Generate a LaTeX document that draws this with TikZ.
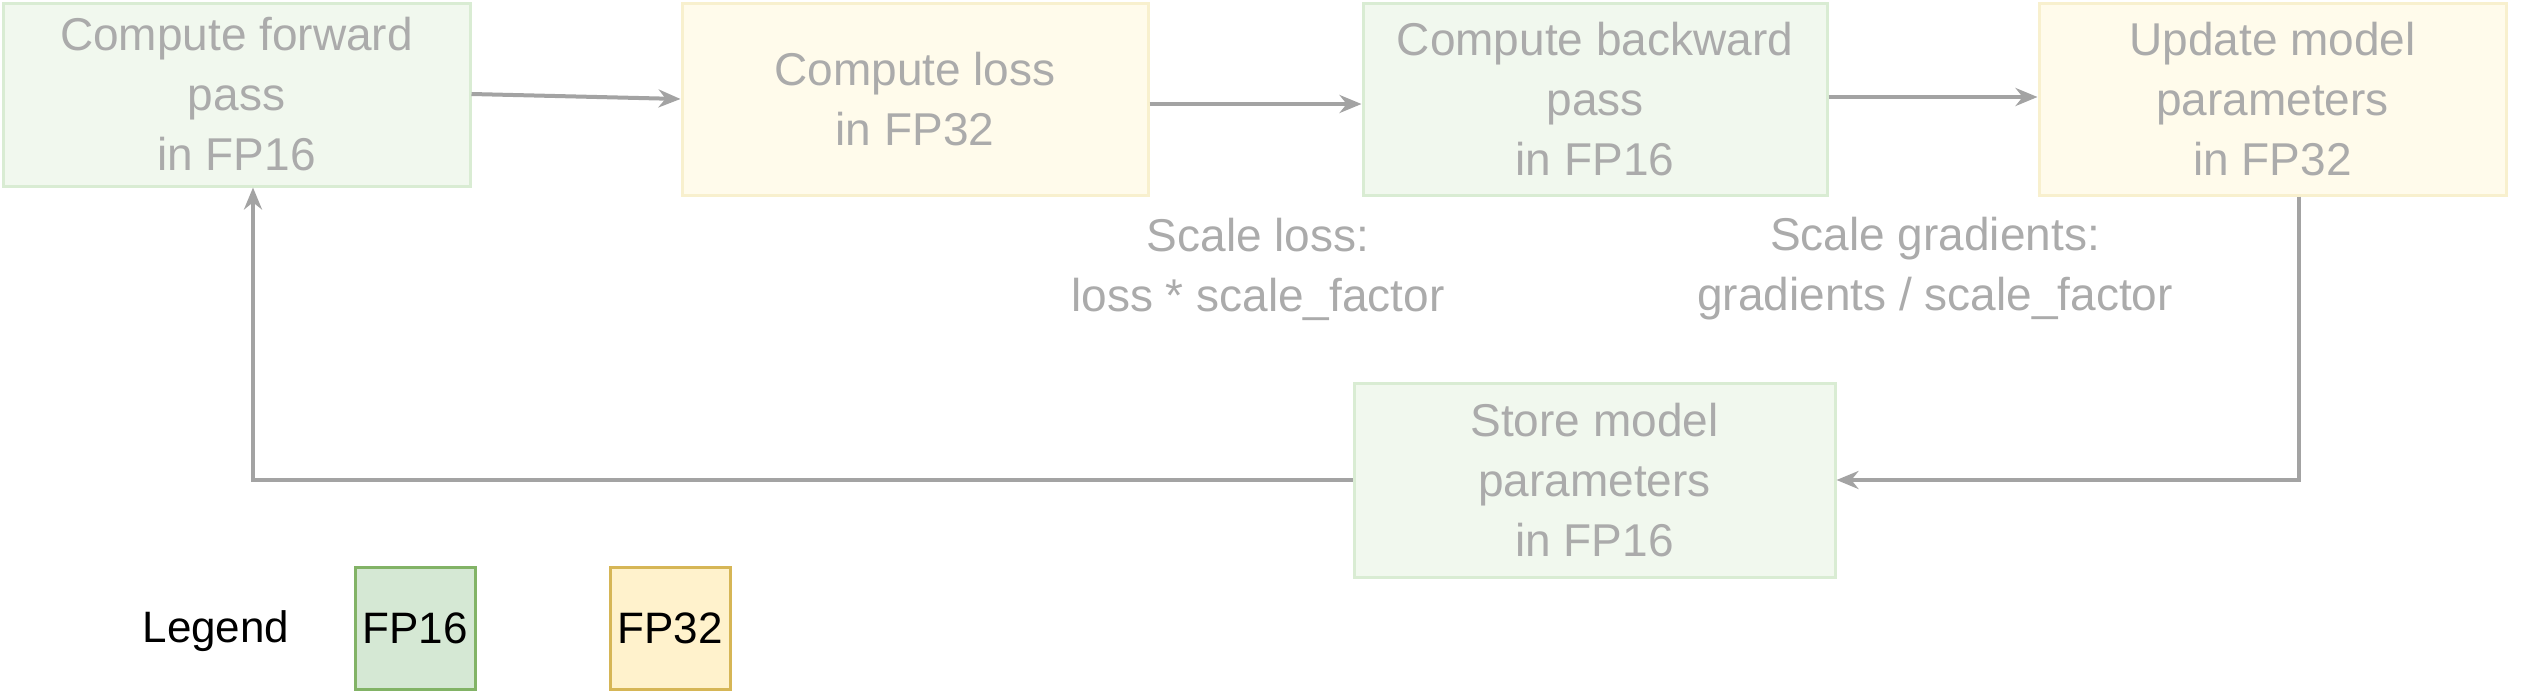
\documentclass[tikz,border=0pt]{standalone}
\usepackage{fontspec}
\setmainfont{Liberation Sans}
\usetikzlibrary{arrows.meta,positioning}
\definecolor{gfill}{HTML}{F1F8EE}
\definecolor{gline}{HTML}{D9ECD3}
\definecolor{yfill}{HTML}{FFFBEB}
\definecolor{yline}{HTML}{F8F0CE}
\definecolor{txtgray}{HTML}{ABABAB}
\definecolor{arrgray}{HTML}{A3A3A3}
\definecolor{legg}{HTML}{D5E8D4}
\definecolor{leggline}{HTML}{82B366}
\definecolor{legy}{HTML}{FFF2CC}
\definecolor{legyline}{HTML}{D6B656}
\tikzset{
  stage/.style={draw, line width=3pt, align=center, text=txtgray, inner sep=0pt,
    font=\fontsize{46}{60}\selectfont},
  fpsix/.style={stage, fill=gfill, draw=gline},
  fpthirtytwo/.style={stage, fill=yfill, draw=yline},
  flow/.style={draw=arrgray, line width=4pt, -{Stealth[length=22pt,width=18pt]}},
  note/.style={align=center, text=txtgray, font=\fontsize{46}{60}\selectfont},
  legbox/.style={line width=3pt, minimum width=120pt, minimum height=122pt,
    font=\fontsize{44}{52}\selectfont},
}
\begin{document}
\begin{tikzpicture}[x=1pt, y=-1pt]
  \useasboundingbox (0,0) rectangle (2542,691);
  % top row
  \node[fpsix, minimum width=467pt, minimum height=183pt] (fwd) at (236.5,94.5) {Compute forward\\pass\\in FP16};
  \node[fpthirtytwo, minimum width=466pt, minimum height=192pt] (loss) at (915,99) {Compute loss\\in FP32};
  \node[fpsix, minimum width=464pt, minimum height=192pt] (bwd) at (1595,99) {Compute backward\\pass\\in FP16};
  \node[fpthirtytwo, minimum width=467pt, minimum height=192pt] (upd) at (2272.5,99) {Update model\\parameters\\in FP32};
  % bottom
  \node[fpsix, minimum width=481pt, minimum height=194pt] (store) at (1594.5,480) {Store model\\parameters\\in FP16};
  % labels
  \node[note] (scl) at (1258,269) {Scale loss:\\loss * scale\_factor};
  \node[note] (scg) at (1935,269) {Scale gradients:\\gradients / scale\_factor};
  % arrows
  \draw[flow] (fwd.east |- 0,94) -- (loss.west |- 0,99);
  \draw[flow] (loss.east |- 0,104) -- (bwd.west |- 0,104);
  \draw[flow] (bwd.east |- 0,97) -- (upd.west |- 0,97);
  \draw[flow] (upd.south -| 2299,0) |- (store.east);
  \draw[flow] (store.west) -| (fwd.south -| 253,0);
  % legend
  \node[font=\fontsize{44}{52}\selectfont] (leg) at (216,631) {Legend};
  \node[legbox, draw=leggline, fill=legg] (lsix) at (415,628) {FP16};
  \node[legbox, draw=legyline, fill=legy] (lthirty) at (670,628) {FP32};
\end{tikzpicture}
\end{document}
